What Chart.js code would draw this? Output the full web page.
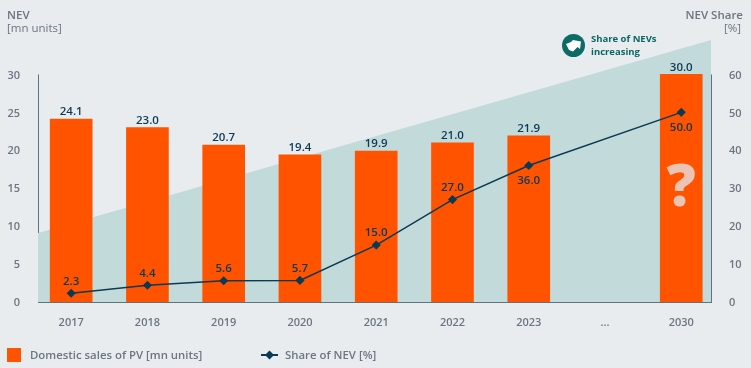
<!DOCTYPE html>
<html lang="en">
<head>
<meta charset="UTF-8">
<title>NEV share</title>
<script src="https://cdn.jsdelivr.net/npm/chart.js"></script>
<style>
    html, body { margin: 0; background: #e8ecef; }
    #wrap { position: relative; width: 751px; height: 368px; overflow: hidden; font-family: "Open Sans", sans-serif; }
    canvas { position: absolute; left: 0; top: 0; }
    .txt { position: absolute; font-size: 11px; line-height: 13px; font-weight: 600; color: #6b7680; white-space: nowrap; }
    .legend { font-size: 11.4px; }
    .note { color: #0b6560; font-size: 9.5px; line-height: 12.5px; font-weight: 700; }
    .swatch { position: absolute; left: 7px; top: 348px; width: 14px; height: 14px; background: #ff5300; }
</style>
</head>
<body>
<div id="wrap">
    <canvas id="chart" width="751" height="368"></canvas>
    <div class="txt" style="left:7px;top:8px;font-size:11.5px">NEV<br><span style="font-weight:400">[mn units]</span></div>
    <div class="txt" style="right:8px;top:8px;text-align:right;font-size:11.5px">NEV Share<br><span style="font-weight:400;margin-right:2px">[%]</span></div>
    <svg style="position:absolute;left:562px;top:34px" width="23" height="23" viewBox="0 0 23 23">
        <circle cx="11.5" cy="11.5" r="11.5" fill="#0b6b66"/>
        <path d="M4 10 L9 8 L11 6 L19 7.5 L18 15 L15.5 13 L11 17.5 L7 16 Z" fill="#fff"/>
    </svg>
    <div class="txt note" style="left:591px;top:33px">Share of NEVs<br>increasing</div>
    <div class="swatch"></div>
    <div class="txt legend" style="left:30px;top:348px">Domestic sales of PV [mn units]</div>
    <svg style="position:absolute;left:261px;top:348px" width="17" height="14" viewBox="0 0 17 14">
        <line x1="0" y1="7" x2="17" y2="7" stroke="#0b3a53" stroke-width="2"/>
        <path d="M8.5 2.5 L13 7 L8.5 11.5 L4 7 Z" fill="#0b3a53"/>
    </svg>
    <div class="txt legend" style="left:285px;top:348px">Share of NEV [%]</div>
</div>
<script>
    const categories = ['2017', '2018', '2019', '2020', '2021', '2022', '2023', '...', '2030'];
    const salesPV = [24.1, 23.0, 20.7, 19.4, 19.9, 21.0, 21.9, null, 30.0];
    const shareNEV = [2.3, 4.4, 5.6, 5.7, 15.0, 27.0, 36.0, null, 50.0];
    const shareBelow = ['36.0', '50.0'];
    const wedgeValues = [9.1, 34.54];

    const xMin = -0.435, xMax = 8.39;
    const leftMax = 34.54, rightMax = 69.08;
    const leftTicks = [0, 5, 10, 15, 20, 25, 30];
    const rightTicks = [0, 10, 20, 30, 40, 50, 60];
    const textColor = '#6b7680';
    const darkColor = '#0b3a53';
    const axisColor = '#5f7483';

    // value labels, the question mark and the two side axis lines
    const extras = {
        id: 'extras',
        beforeDatasetsDraw(chart) {
            const { ctx, scales } = chart;
            ctx.save();
            ctx.strokeStyle = axisColor;
            ctx.lineWidth = 1;
            [[scales.y, 30], [scales.y1, 60]].forEach(([s, top]) => {
                const x = Math.round(s === scales.y ? chart.chartArea.left : chart.chartArea.right) + 0.5;
                ctx.beginPath();
                ctx.moveTo(x, s.getPixelForValue(top));
                ctx.lineTo(x, s.getPixelForValue(0));
                ctx.stroke();
            });
            ctx.restore();
        },
        afterDatasetsDraw(chart) {
            const { ctx } = chart;
            const bars = chart.getDatasetMeta(1).data;
            const points = chart.getDatasetMeta(2).data;
            ctx.save();
            ctx.textAlign = 'center';
            ctx.textBaseline = 'middle';
            ctx.fillStyle = darkColor;
            ctx.font = '600 11.5px "Open Sans"';
            salesPV.forEach((v, i) => {
                if (v === null) return;
                ctx.fillText(v.toFixed(1), bars[i].x, bars[i].y - 7);
            });
            shareNEV.forEach((v, i) => {
                if (v === null) return;
                const t = v.toFixed(1);
                const dy = shareBelow.includes(t) ? 15 : -12;
                ctx.fillText(t, points[i].x, points[i].y + dy);
            });
            ctx.font = '800 58px "Open Sans"';
            ctx.fillStyle = '#ecc4b5';
            ctx.fillText('?', bars[8].x, chart.scales.y.getPixelForValue(14.8));
            ctx.restore();
        }
    };

    new Chart(document.getElementById('chart'), {
        type: 'bar',
        data: {
            datasets: [
                {
                    type: 'line',
                    data: [{ x: xMin, y: wedgeValues[0] }, { x: xMax, y: wedgeValues[1] }],
                    borderWidth: 0,
                    pointRadius: 0,
                    fill: 'origin',
                    backgroundColor: '#c3dadb',
                    order: 3
                },
                {
                    label: 'Domestic sales of PV [mn units]',
                    data: categories.map((c, i) => ({ x: i, y: salesPV[i] })),
                    backgroundColor: '#ff5300',
                    barThickness: 42,
                    order: 2
                },
                {
                    type: 'line',
                    label: 'Share of NEV [%]',
                    yAxisID: 'y1',
                    data: categories.map((c, i) => ({ x: i, y: shareNEV[i] })),
                    borderColor: darkColor,
                    backgroundColor: darkColor,
                    borderWidth: 1.5,
                    pointStyle: 'rectRot',
                    pointRadius: 3.5,
                    spanGaps: true,
                    order: 1
                }
            ]
        },
        options: {
            responsive: false,
            animation: false,
            layout: { padding: { top: 40 } },
            plugins: { legend: { display: false }, tooltip: { enabled: false } },
            scales: {
                x: {
                    type: 'linear',
                    offset: false,
                    min: xMin,
                    max: xMax,
                    grid: { display: false },
                    border: { color: axisColor },
                    afterBuildTicks(s) { s.ticks = categories.map((c, i) => ({ value: i })); },
                    afterFit(s) { s.height = 66; },
                    ticks: {
                        autoSkip: false,
                        maxRotation: 0,
                        padding: 6,
                        color: textColor,
                        font: { family: 'Open Sans', size: 11, weight: '600' },
                        callback: v => categories[v]
                    }
                },
                y: {
                    position: 'left',
                    min: 0,
                    max: leftMax,
                    grid: { display: false, drawTicks: false },
                    border: { display: false },
                    afterBuildTicks(s) { s.ticks = leftTicks.map(v => ({ value: v })); },
                    afterFit(s) { s.width = 38; },
                    ticks: { padding: 18, labelOffset: 1, color: textColor, font: { family: 'Open Sans', size: 11, weight: '600' } }
                },
                y1: {
                    position: 'right',
                    min: 0,
                    max: rightMax,
                    grid: { display: false, drawTicks: false },
                    border: { display: false },
                    afterBuildTicks(s) { s.ticks = rightTicks.map(v => ({ value: v })); },
                    afterFit(s) { s.width = 40; },
                    ticks: { padding: 18, labelOffset: 1, color: textColor, font: { family: 'Open Sans', size: 11, weight: '600' } }
                }
            }
        },
        plugins: [extras]
    });
</script>
</body>
</html>
